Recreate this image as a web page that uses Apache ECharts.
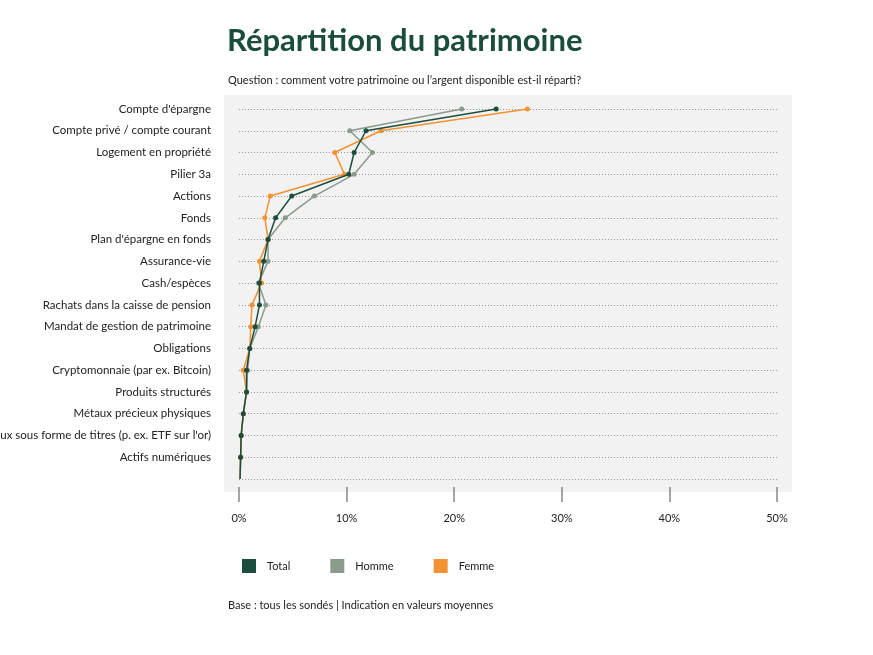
<!DOCTYPE html>
<html>
<head>
<meta charset="utf-8">
<script src="https://cdn.jsdelivr.net/npm/echarts@6/dist/echarts.min.js"></script>
<style>html,body{margin:0;background:#fff}#c{width:873px;height:655px}</style>
</head>
<body>
<div id="c"></div>
<script>
var categories = ["Compte d'épargne", 'Compte privé / compte courant', 'Logement en propriété', 'Pilier 3a', 'Actions', 'Fonds',
  "Plan d'épargne en fonds", 'Assurance-vie', 'Cash/espèces', 'Rachats dans la caisse de pension', 'Mandat de gestion de patrimoine',
  'Obligations', 'Cryptomonnaie (par ex. Bitcoin)', 'Produits structurés', 'Métaux précieux physiques',
  "Métaux précieux sous forme de titres (p. ex. ETF sur l'or)", 'Actifs numériques', ''];
var total = [23.9, 11.8, 10.7, 10.2, 4.9, 3.4, 2.7, 2.3, 1.9, 1.9, 1.5, 1.0, 0.7, 0.7, 0.4, 0.2, 0.15, 0.1];
var homme = [20.7, 10.3, 12.4, 10.7, 7.0, 4.3, 2.7, 2.7, 1.8, 2.5, 1.8, 1.0, 0.8, 0.7, 0.4, 0.2, 0.15, 0.1];
var femme = [26.8, 13.2, 8.9, 9.8, 2.9, 2.4, 2.7, 1.9, 2.1, 1.2, 1.1, 1.0, 0.4, 0.7, 0.4, 0.2, 0.15, 0.1];
var xTicks = [0, 10, 20, 30, 40, 50];

var font = 'Lato';
function mk(name, vals, color, z) {
  return {
    name: name, type: 'line', z: z, symbol: 'circle', symbolSize: 5,
    data: vals.map(function (v, i) { return i === vals.length - 1 ? { value: v, symbolSize: 0 } : v; }),
    lineStyle: { color: color, width: 1.5 }, itemStyle: { color: color }
  };
}
var chart = echarts.init(document.getElementById('c'));
chart.setOption({
  animation: false,
  textStyle: { fontFamily: font },
  title: [
    { text: 'Répartition du patrimoine', left: 222, top: 20, textStyle: { fontSize: 31, fontWeight: 'bold', color: '#1b4d3e', fontFamily: font } },
    { text: 'Question : comment votre patrimoine ou l\u2019argent disponible est-il réparti?', left: 223, top: 70, textStyle: { fontSize: 11, fontWeight: 'normal', color: '#222', fontFamily: font } },
    { text: 'Base : tous les sondés | Indication en valeurs moyennes', left: 223, top: 595, textStyle: { fontSize: 11, fontWeight: 'normal', color: '#222', fontFamily: font } }
  ],
  graphic: [{ type: 'rect', z: -10, shape: { x: 224, y: 95, width: 568, height: 397 }, style: { fill: '#f2f2f2' } }],
  legend: {
    left: 237, top: 554, itemGap: 40, itemWidth: 14, itemHeight: 14, icon: 'rect',
    textStyle: { fontSize: 11, color: '#222', padding: [0, 0, 0, 6] },
    data: ['Total', 'Homme', 'Femme']
  },
  grid: { left: 239, right: 96, top: 109, bottom: 176, containLabel: false, outerBoundsMode: 'none' },
  xAxis: {
    type: 'value', min: 0, max: 50, interval: 10, offset: 8,
    axisLine: { show: false },
    axisTick: { show: true, length: 15, inside: false, lineStyle: { color: '#888', width: 1.5 } },
    splitLine: { show: false },
    axisLabel: { margin: 26, fontSize: 11, color: '#222', formatter: '{value}%', customValues: xTicks }
  },
  yAxis: {
    type: 'category', inverse: true, boundaryGap: false, data: categories,
    axisLine: { show: false }, axisTick: { show: false },
    axisLabel: { margin: 28, fontSize: 11.5, color: '#222' },
    splitLine: { show: true, lineStyle: { type: [1, 2], color: '#999' } }
  },
  series: [mk('Homme', homme, '#8a9a8c', 1), mk('Femme', femme, '#f39230', 2), mk('Total', total, '#1b4d3e', 3)]
});
</script>
</body>
</html>
